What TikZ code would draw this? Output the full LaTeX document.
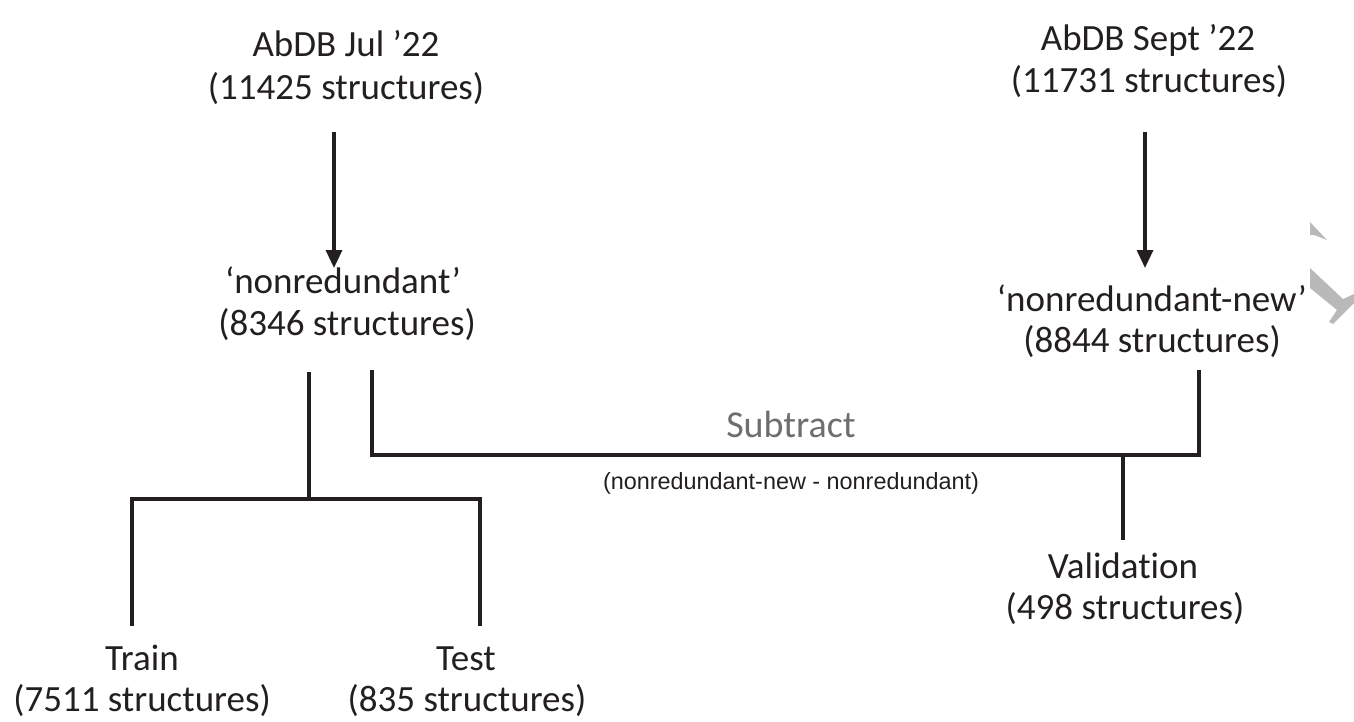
\documentclass[tikz,border=0pt]{standalone}
\usepackage{fontspec}
\setmainfont{Carlito}[Ligatures={NoCommon}]
\newfontfamily\smallfont{Liberation Sans}
\usetikzlibrary{arrows.meta}
\definecolor{ink}{RGB}{35,31,32}
\definecolor{subgray}{RGB}{110,110,110}
\definecolor{wm}{RGB}{185,185,185}
\tikzset{
  txt/.style={inner sep=0pt, anchor=base, text=ink, font=\fontsize{37}{41}\selectfont},
  subtxt/.style={inner sep=0pt, anchor=base, text=subgray, font=\fontsize{38}{42}\selectfont},
  smalltxt/.style={inner sep=0pt, anchor=base, text=ink, font=\smallfont\fontsize{23.4}{26}\selectfont},
  conn/.style={draw=ink, line width=3.2pt, line join=miter},
  arr/.style={conn, -{Triangle[width=16pt,length=18pt]}}
}
\begin{document}
\begin{tikzpicture}[x=1pt,y=-1pt]
\useasboundingbox (0,0) rectangle (1354,721);
% texts
\node[txt] (jul1) at (346,56) {AbDB Jul ’22};
\node[txt] (jul2) at (346,99) {(11425 structures)};
\node[txt] (nr1) at (343,293) {‘nonredundant’};
\node[txt] (nr2) at (347,335) {(8346 structures)};
\node[txt] (sep1) at (1148,50) {AbDB Sept ’22};
\node[txt] (sep2) at (1149,92) {(11731 structures)};
\node[txt] (nn1) at (1152,311) {‘nonredundant-new’};
\node[txt] (nn2) at (1152,352) {(8844 structures)};
\node[subtxt] (sub) at (791,437) {Subtract};
\node[smalltxt] (subnote) at (791,489) {(nonredundant-new - nonredundant)};
\node[txt] (val1) at (1123,578) {Validation};
\node[txt] (val2) at (1125,619) {(498 structures)};
\node[txt] (tr1) at (142,670) {Train};
\node[txt] (tr2) at (142,711) {(7511 structures)};
\node[txt] (te1) at (466,670) {Test};
\node[txt] (te2) at (467,711) {(835 structures)};
% junction coordinates
\coordinate (jA) at (334,132);
\coordinate (jB) at (334,268);
\coordinate (sA) at (1145,132);
\coordinate (sB) at (1145,268);
\coordinate (split0) at (309,372);
\coordinate (split1) at (309,499);
\coordinate (trTop) at (132,499);
\coordinate (trEnd) at (132,626);
\coordinate (teTop) at (480,499);
\coordinate (teEnd) at (480,626);
\coordinate (subL0) at (372,370);
\coordinate (subL1) at (372,455);
\coordinate (subR1) at (1199,455);
\coordinate (subR0) at (1199,370);
\coordinate (val0) at (1123,455);
\coordinate (valEnd) at (1123,540);
% connectors
\draw[arr] (jA) -- (jB);
\draw[arr] (sA) -- (sB);
\draw[conn] (split0) -- (split1);
\draw[conn] (trEnd) -- (trTop) -- (teTop) -- (teEnd);
\draw[conn] (subL0) -- (subL1) -- (subR1) -- (subR0);
\draw[conn] (val0) -- (valEnd);
% watermark fragment at right edge
\fill[wm] (1310,222) -- (1327,240) -- (1322,238) -- (1314,235) -- (1310,235) -- cycle;
\fill[wm] (1310,268) -- (1343,299) -- (1354,294) -- (1354,303) -- (1333,324) -- (1329,322) -- (1337,310) -- (1310,288) -- cycle;
\end{tikzpicture}
\end{document}
